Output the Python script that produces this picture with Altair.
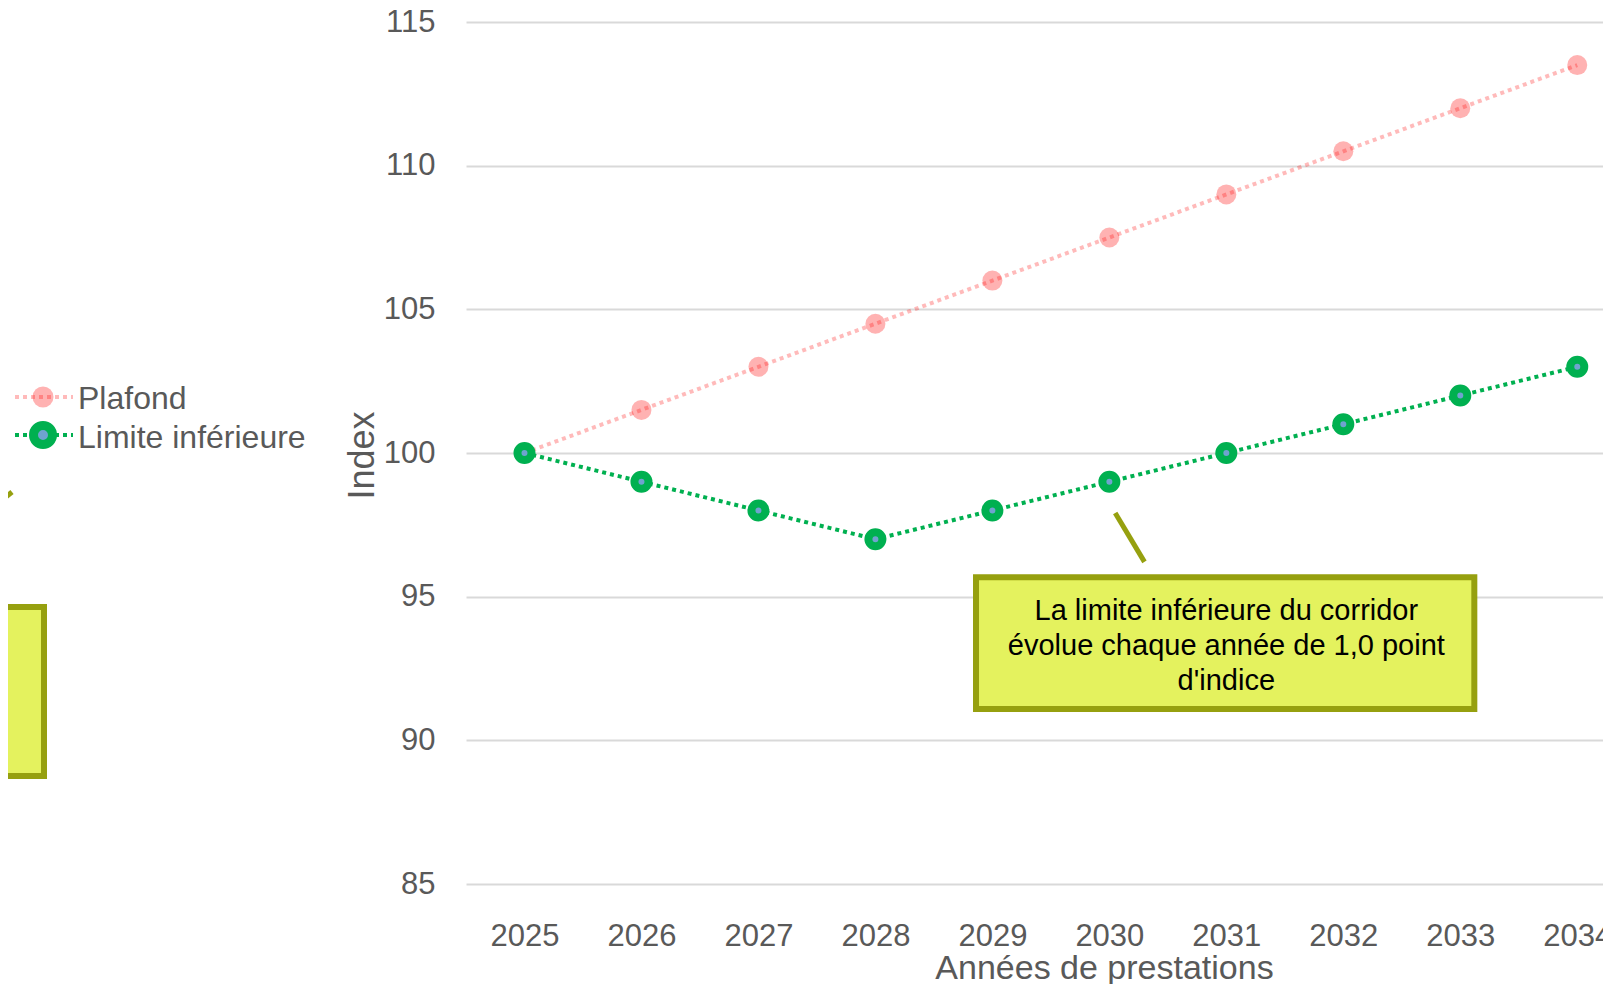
import altair as alt
import pandas as pd

# ---- data ----
years = [2025, 2026, 2027, 2028, 2029, 2030, 2031, 2032, 2033, 2034]
plafond = [100, 101.5, 103, 104.5, 106, 107.5, 109, 110.5, 112, 113.5]
limite = [100, 99, 98, 97, 98, 99, 100, 101, 102, 103]
y_ticks = [85, 90, 95, 100, 105, 110, 115]
series_names = ["Plafond", "Limite inférieure"]
annot_lines = ["La limite inférieure du corridor",
               "évolue chaque année de 1,0 point",
               "d'indice"]
x_title = "Années de prestations"
y_title = "Index"

# annotation box / connector / text, in data units
box = {"x": 2028.86, "x2": 2033.12, "y": 95.68, "y2": 91.09}
conn = {"x": 2030.05, "y": 97.91, "x2": 2030.30, "y2": 96.21}
text_pos = {"x": 2031.0, "y": 94.50}

FONT = "Liberation Sans"
GREY = "#595959"
GREEN = "#00B050"
BLUE = "#6FA3CF"
RED = "#FF0000"
OLIVE = "#96A00F"
YELLOW = "#E4F25E"

df_p = pd.DataFrame({"year": years, "value": plafond})
df_l = pd.DataFrame({"year": years, "value": limite})

W, H = 1137, 862

x_enc = alt.X(
    "year:Q",
    scale=alt.Scale(domain=[2024.5, 2034.22], nice=False, zero=False),
    axis=alt.Axis(
        values=years, format="d", grid=False, domain=False, ticks=False,
        tickSize=0, labelPadding=61, labelBaseline="alphabetic",
        labelFontSize=31, labelColor=GREY, labelFont=FONT,
        labelFlush=False, labelOverlap=False,
        title=x_title, titleFont=FONT, titleFontSize=34,
        titleFontWeight="normal", titleColor=GREY,
        titleX=638, titleY=94, titleAlign="center",
        titleBaseline="alphabetic", titleAnchor="start",
    ),
)
y_enc = alt.Y(
    "value:Q",
    scale=alt.Scale(domain=[85, 115], nice=False, zero=False),
    axis=alt.Axis(
        values=y_ticks, grid=True, gridColor="#D9D9D9", gridWidth=2,
        domain=False, ticks=False, tickSize=0, labelPadding=31,
        labelFontSize=31, labelColor=GREY, labelFont=FONT,
        title=y_title, titleFont=FONT, titleFontSize=36,
        titleFontWeight="normal", titleColor=GREY, titleAngle=270,
        titleX=-93, titleY=433, titleAlign="center",
        titleBaseline="alphabetic", titleAnchor="start",
    ),
)

base_p = alt.Chart(df_p).encode(x=x_enc, y=y_enc)
base_l = alt.Chart(df_l).encode(x=x_enc, y=y_enc)

line_p = base_p.mark_line(stroke=RED, strokeOpacity=0.27, strokeWidth=4,
                          strokeDash=[4, 4], strokeCap="butt")
pts_p = base_p.mark_point(shape="circle", filled=True, size=400, fill=RED,
                          fillOpacity=0.3, strokeWidth=0, opacity=1)
line_l = base_l.mark_line(stroke=GREEN, strokeWidth=4, strokeDash=[4, 4],
                          strokeCap="butt")
pts_l = base_l.mark_point(shape="circle", filled=True, size=196, fill=BLUE,
                          stroke=GREEN, strokeWidth=8, opacity=1)

# annotation box with connector and text
df_box = pd.DataFrame([box])
rect = alt.Chart(df_box).mark_rect(fill=YELLOW, stroke=OLIVE, strokeWidth=6).encode(
    x="x:Q", x2="x2:Q", y="y:Q", y2="y2:Q")
df_conn = pd.DataFrame([conn])
connector = alt.Chart(df_conn).mark_rule(stroke=OLIVE, strokeWidth=5).encode(
    x="x:Q", x2="x2:Q", y="y:Q", y2="y2:Q")
df_text = pd.DataFrame([text_pos])
label = alt.Chart(df_text).mark_text(
    text=annot_lines, align="center", baseline="middle", fontSize=29,
    lineHeight=35, color="#000000", font=FONT).encode(x="x:Q", y="y:Q")

# fragment of a neighbouring annotation, cut by the left edge
frag_rect = alt.Chart(df_box).mark_rect(fill=YELLOW, stroke=OLIVE, strokeWidth=6).encode(
    x=alt.value(-520), x2=alt.value(-422), y=alt.value(585), y2=alt.value(754))
frag_line = alt.Chart(df_box).mark_rule(stroke=OLIVE, strokeWidth=5).encode(
    x=alt.value(-490), x2=alt.value(-454), y=alt.value(500), y2=alt.value(470))

# legend (drawn by hand, left of the plot)
leg = []
leg.append(alt.Chart(df_box).mark_rule(stroke=RED, strokeOpacity=0.27, strokeWidth=4,
                                       strokeDash=[4, 4]).encode(
    x=alt.value(-451), x2=alt.value(-393), y=alt.value(375)))
leg.append(alt.Chart(df_box).mark_point(shape="circle", filled=True, size=441, fill=RED,
                                        fillOpacity=0.3, strokeWidth=0, opacity=1).encode(
    x=alt.value(-423), y=alt.value(375)))
leg.append(alt.Chart(df_box).mark_text(text=series_names[0], align="left",
                                       baseline="alphabetic", fontSize=32, color=GREY,
                                       font=FONT).encode(
    x=alt.value(-388), y=alt.value(387)))
leg.append(alt.Chart(df_box).mark_rule(stroke=GREEN, strokeWidth=4,
                                       strokeDash=[4, 4]).encode(
    x=alt.value(-451), x2=alt.value(-393), y=alt.value(413)))
leg.append(alt.Chart(df_box).mark_point(shape="circle", filled=True, size=361, fill=BLUE,
                                        stroke=GREEN, strokeWidth=9, opacity=1).encode(
    x=alt.value(-423), y=alt.value(413)))
leg.append(alt.Chart(df_box).mark_text(text=series_names[1], align="left",
                                       baseline="alphabetic", fontSize=32, color=GREY,
                                       font=FONT).encode(
    x=alt.value(-388), y=alt.value(426)))

chart = alt.layer(
    line_p, pts_p, line_l, pts_l, connector, rect, label, frag_line, frag_rect, *leg
).properties(
    width=W, height=H,
    padding={"left": 458, "top": 14, "right": 0, "bottom": 100},
    autosize=alt.AutoSizeParams(type="none"),
).configure(font=FONT).configure_view(stroke=None)

chart.save("out.html", embed_options={"renderer": "svg", "actions": False})
